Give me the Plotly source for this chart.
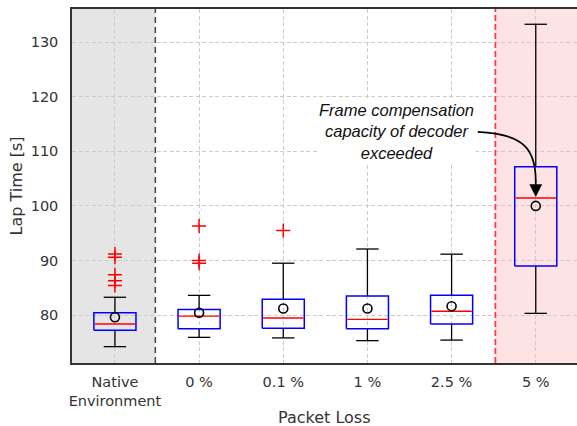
import plotly.graph_objects as go

categories = ["Native<br>Environment", "0 %", "0.1 %", "1 %", "2.5 %", "5 %"]
q1 = [77.2, 77.5, 77.55, 77.5, 78.35, 89.0]
median = [78.35, 79.8, 79.45, 79.2, 80.7, 101.45]
q3 = [80.4, 81.0, 82.9, 83.5, 83.6, 107.2]
lower = [74.2, 75.9, 75.8, 75.3, 75.4, 80.3]
upper = [83.25, 83.6, 89.5, 92.1, 91.15, 133.3]
means = [79.6, 80.4, 81.2, 81.2, 81.6, 100.0]
outlier_idx = [0, 0, 0, 0, 0, 1, 1, 1, 2]
outlier_val = [91.2, 90.6, 87.4, 86.3, 85.4, 96.3, 90.0, 89.5, 95.5]

pos = list(range(len(categories)))
BOX_HALF = 0.25
CAP_HALF = 0.133

# whisker, box and median segments built from the data arrays
wx, wy, bx, by, mx, my = [], [], [], [], [], []
for i in pos:
    wx += [i, i, None, i, i, None,
           i - CAP_HALF, i + CAP_HALF, None, i - CAP_HALF, i + CAP_HALF, None]
    wy += [lower[i], q1[i], None, q3[i], upper[i], None,
           lower[i], lower[i], None, upper[i], upper[i], None]
    bx += [i - BOX_HALF, i + BOX_HALF, i + BOX_HALF, i - BOX_HALF, i - BOX_HALF, None]
    by += [q1[i], q1[i], q3[i], q3[i], q1[i], None]
    mx += [i - BOX_HALF + 0.01, i + BOX_HALF - 0.01, None]
    my += [median[i], median[i], None]

fig = go.Figure()
fig.add_trace(go.Scatter(x=wx, y=wy, mode="lines", line=dict(color="black", width=1.3),
                         hoverinfo="skip"))
fig.add_trace(go.Scatter(x=bx, y=by, mode="lines", line=dict(color="blue", width=1.5),
                         hoverinfo="skip"))
fig.add_trace(go.Scatter(x=mx, y=my, mode="lines", line=dict(color="red", width=1.4),
                         hoverinfo="skip"))
# means
fig.add_trace(go.Scatter(x=pos, y=means, mode="markers",
                         marker=dict(symbol="circle-open", size=9, color="black", line=dict(width=1.6))))
# outliers
fig.add_trace(go.Scatter(x=outlier_idx, y=outlier_val, mode="markers",
                         marker=dict(symbol="cross-thin", size=10, color="red", line=dict(width=1.5, color="red"))))

xr = [-0.51, 5.49]
fig.update_layout(
    width=577, height=426,
    margin=dict(l=72, r=0, t=9, b=63),
    paper_bgcolor="white", plot_bgcolor="white",
    showlegend=False,
    font=dict(family="DejaVu Sans", size=14.5, color="#333333"),
    shapes=[
        dict(type="rect", xref="x", yref="paper", x0=xr[0], x1=0.48, y0=0, y1=1,
             fillcolor="#e5e5e5", line=dict(width=0), layer="below"),
        dict(type="rect", xref="x", yref="paper", x0=4.52, x1=xr[1], y0=0, y1=1,
             fillcolor="#fde3e4", line=dict(width=0), layer="below"),
        dict(type="line", xref="x", yref="paper", x0=0.48, x1=0.48, y0=0, y1=1,
             line=dict(color="#444444", width=1.5, dash="6px,4px")),
        dict(type="line", xref="x", yref="paper", x0=4.52, x1=4.52, y0=0, y1=1,
             line=dict(color="#ff3b3b", width=1.8, dash="6px,3px")),
        dict(type="path", xref="x", yref="y",
             path="M 4.311,113.58 C 4.869,113.2 5.0,110.28 5.0,104.5",
             line=dict(color="black", width=1.7)),
    ],
    annotations=[
        dict(x=3.345, y=113.6, xref="x", yref="y", showarrow=False,
             text="<i>Frame compensation<br>capacity of decoder<br>exceeded</i>",
             font=dict(family="Liberation Sans", size=16.5, color="#111111"),
             bgcolor="white", align="center"),
        dict(x=5.0, y=101.65, xref="x", yref="y", ax=0, ay=-18, text="",
             showarrow=True, arrowhead=2, arrowsize=1.5, arrowwidth=1.7, arrowcolor="black"),
        dict(x=0.5, y=-0.155, xref="paper", yref="paper", showarrow=False,
             text="Packet Loss", xanchor="center", yanchor="middle",
             font=dict(family="DejaVu Sans", size=16, color="#333333")),
    ],
)
fig.update_xaxes(range=xr, tickvals=pos, ticktext=categories, showgrid=True,
                 gridcolor="#cccccc", griddash="4px,2.5px", gridwidth=1,
                 showline=True, linecolor="#333333", linewidth=1.5, mirror=True,
                 ticks="", ticklabelstandoff=5, zeroline=False, automargin=False)
fig.update_yaxes(range=[71.2, 136.1], tickvals=[80, 90, 100, 110, 120, 130], showgrid=True,
                 gridcolor="#cccccc", griddash="4px,2.5px", gridwidth=1,
                 showline=True, linecolor="#333333", linewidth=1.5,
                 ticks="", ticklabelstandoff=9, zeroline=False, automargin=False,
                 title=dict(text="Lap Time [s]", standoff=4,
                            font=dict(family="DejaVu Sans", size=16, color="#333333")))

fig.write_html("out.html")
